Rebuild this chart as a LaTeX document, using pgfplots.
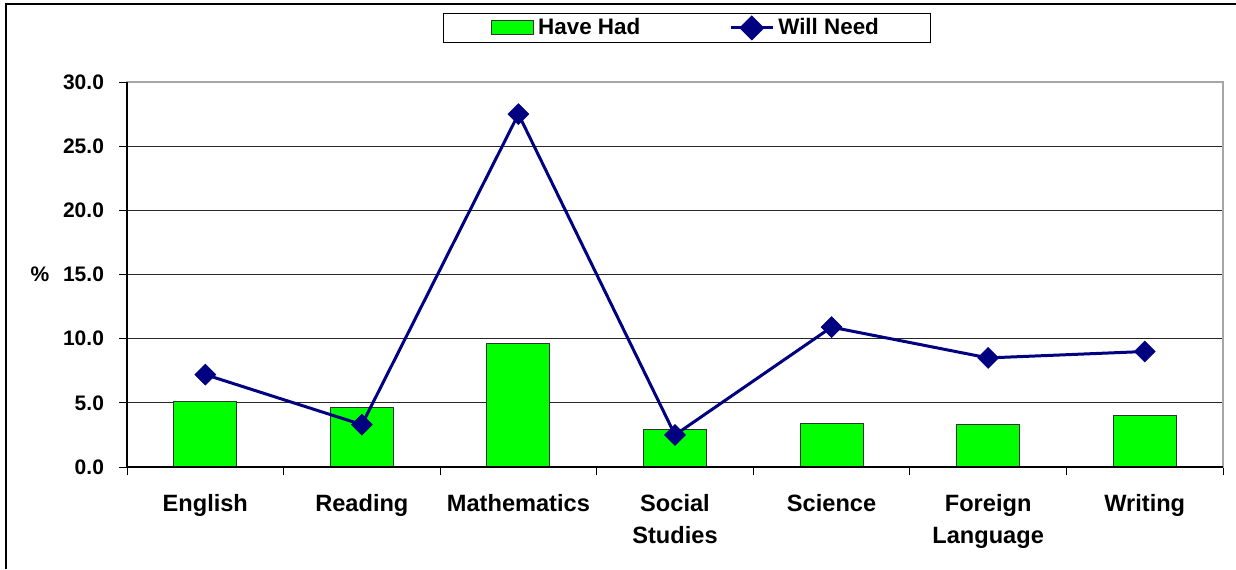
\documentclass[border=0pt]{standalone}
\usepackage{fontspec}
\setmainfont{Liberation Sans}
\usepackage{pgfplots}
\pgfplotsset{compat=1.18}

\definecolor{barg}{RGB}{0,255,0}
\definecolor{navy}{RGB}{0,0,128}

\newcommand{\lbl}{\bfseries\fontsize{10.5}{16}\selectfont}
\newcommand{\xlbl}{\bfseries\fontsize{11.8}{16}\selectfont}
\newcommand{\leglbl}{\bfseries\fontsize{11.2}{13}\selectfont}

\begin{document}
\begin{tikzpicture}
\path[use as bounding box] (0,0) rectangle (618pt,284.5pt);
\draw[line width=1pt] (3pt,0) -- (3pt,282.5pt) -- (618pt,282.5pt);

\begin{axis}[
    at={(63.5pt,51pt)}, anchor=south west,
    scale only axis,
    width=548pt, height=192.5pt,
    clip=false,
    xmin=-0.5, xmax=6.5,
    ymin=0, ymax=30,
    ytick={0,5,...,30},
    xtick={0,...,6},
    xticklabels={English,Reading,Mathematics,Social\\Studies,Science,Foreign\\Language,Writing},
    minor xtick={-0.5,0.5,...,6.5},
    major x tick style={draw=none},
    xtick pos=bottom, ytick pos=left,
    tick align=outside,
    major tick length=4pt,
    minor tick length=4pt,
    tick style={black, line width=0.5pt},
    ymajorgrids=true,
    major grid style={black!85, line width=0.5pt},
    axis line style={draw=gray!70, line width=0.8pt},
    /pgf/number format/.cd, fixed, fixed zerofill, precision=1, assume math mode=true,
    /pgfplots/.cd,
    yticklabel style={font=\lbl, xshift=-4pt},
    xticklabel style={font=\xlbl, align=center, anchor=north, yshift=-6pt},
    legend style={
        at={(rel axis cs:0.511,1)}, anchor=south, yshift=19.5pt,
        draw=black, line width=0.5pt,
        font=\leglbl,
        inner xsep=24pt, inner ysep=0.5pt,
        /tikz/every even column/.append style={column sep=42.5pt},
    },
    legend columns=2,
]
\addplot[ybar, bar width=31.5pt, fill=barg, draw=black!80, line width=0.5pt,
    legend image code/.code={\draw[fill=barg, draw=black!80, line width=0.5pt] (0pt,-3.5pt) rectangle (21pt,3.5pt);}]
    coordinates {(0,5.1) (1,4.6) (2,9.6) (3,2.9) (4,3.4) (5,3.3) (6,4.0)};
\addlegendentry{Have Had}
\addplot[navy, line width=1.5pt, mark=square*, mark size=3.7pt, mark options={rotate=45, fill=navy, line width=0.3pt},
    legend image code/.code={\draw[navy, line width=1.5pt] (0pt,0pt) -- (21pt,0pt); \fill[navy, rotate around={45:(10.5pt,0pt)}] (6.8pt,-3.7pt) rectangle (14.2pt,3.7pt);}]
    coordinates {(0,7.2) (1,3.3) (2,27.5) (3,2.5) (4,10.9) (5,8.5) (6,9.0)};
\addlegendentry{Will Need}
\draw[black, line width=0.8pt] (rel axis cs:0,1) -- (rel axis cs:0,0) -- (rel axis cs:1,0);
\node[font=\lbl] at (rel axis cs:0,0.5) [xshift=-43.5pt] {\%};
\end{axis}
\end{tikzpicture}
\end{document}
